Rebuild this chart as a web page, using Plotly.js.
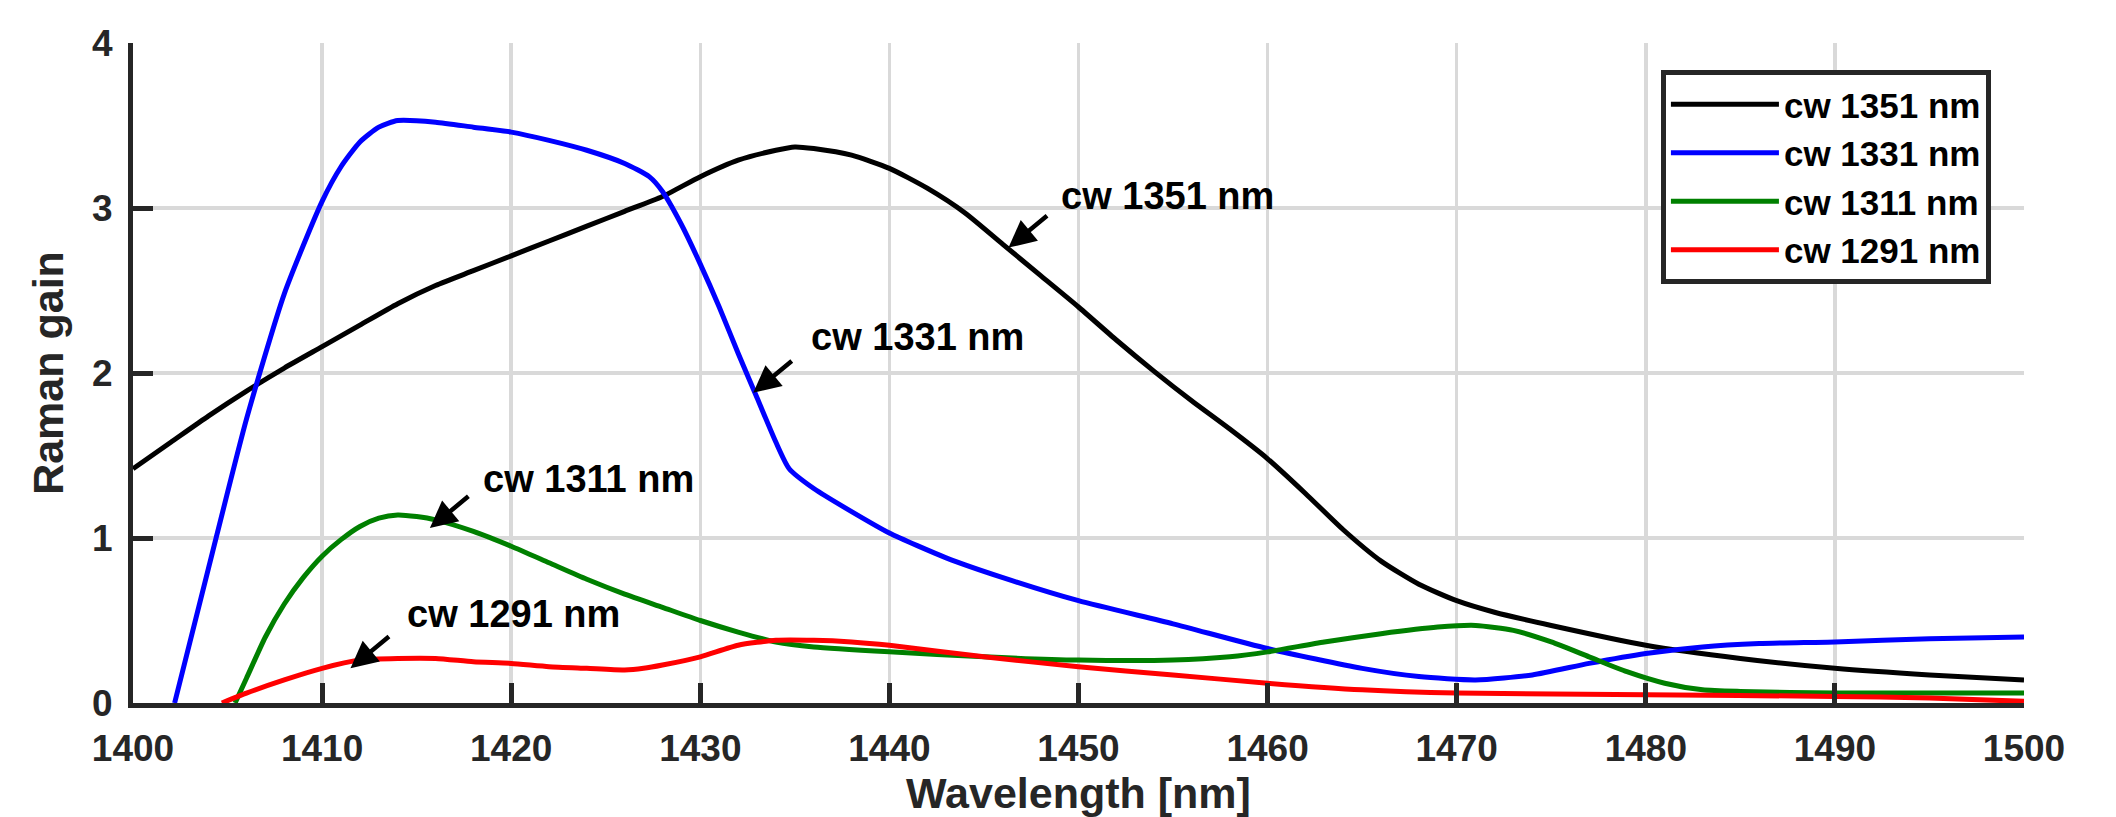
<!DOCTYPE html>
<html>
<head>
<meta charset="utf-8">
<script src="https://cdn.plot.ly/plotly-3.0.1.min.js"></script>
<style>html,body{margin:0;padding:0;background:#fff;}#chart{width:2116px;height:817px;}</style>
</head>
<body>
<div id="chart"></div>
<script>
// cw 1351 nm (black)
const x1351 = [1400,1402,1404,1406,1408,1410,1412,1414,1416,1418,1420,1422,1424,1426,1428,1430,1432,1434,1435,1436,1438,1440,1442,1444,1446,1448,1450,1452,1454,1456,1458,1460,1462,1464,1466,1468,1470,1472,1475,1480,1485,1490,1495,1500];
const y1351 = [1.42,1.58,1.74,1.89,2.03,2.16,2.29,2.42,2.53,2.62,2.71,2.80,2.89,2.98,3.07,3.19,3.29,3.35,3.37,3.36,3.32,3.24,3.12,2.97,2.78,2.59,2.40,2.20,2.01,1.83,1.66,1.48,1.27,1.05,0.86,0.72,0.62,0.55,0.47,0.35,0.27,0.21,0.17,0.14];
// cw 1331 nm (blue)
const x1331 = [1402.2,1404,1406,1408,1410,1411,1412,1413,1414,1416,1418,1420,1422,1424,1426,1427.3,1428,1429,1430,1431,1432,1433,1434,1434.7,1436,1438,1440,1443,1446,1450,1455,1460,1465,1468,1471,1474,1477,1480,1483,1486,1490,1495,1500];
const y1331 = [0,0.82,1.72,2.48,3.04,3.25,3.40,3.49,3.53,3.52,3.49,3.46,3.41,3.35,3.27,3.19,3.10,2.90,2.66,2.40,2.12,1.85,1.58,1.42,1.30,1.16,1.03,0.88,0.76,0.62,0.48,0.33,0.21,0.16,0.14,0.17,0.24,0.30,0.34,0.36,0.37,0.39,0.40];
// cw 1311 nm (green)
const x1311 = [1405.4,1406,1407,1408,1409,1410,1411,1412,1413,1414,1415,1416,1418,1420,1422,1424,1426,1428,1430,1432,1434,1436,1440,1445,1450,1455,1458,1460,1463,1466,1469,1471,1473,1475,1477,1479,1481,1483,1485,1490,1500];
const y1311 = [0,0.15,0.40,0.60,0.76,0.89,0.99,1.07,1.12,1.14,1.13,1.11,1.04,0.95,0.85,0.75,0.66,0.58,0.50,0.43,0.37,0.34,0.31,0.28,0.26,0.26,0.28,0.31,0.37,0.42,0.46,0.47,0.44,0.37,0.28,0.19,0.12,0.08,0.07,0.06,0.06];
// cw 1291 nm (red)
const x1291 = [1404.7,1406,1408,1410,1412,1414,1416,1418,1420,1422,1424,1426,1427,1428,1430,1432,1434,1436,1438,1440,1445,1450,1455,1460,1465,1470,1480,1490,1495,1500];
const y1291 = [0,0.06,0.14,0.21,0.26,0.27,0.27,0.25,0.24,0.22,0.21,0.20,0.21,0.23,0.28,0.35,0.38,0.38,0.37,0.35,0.28,0.22,0.17,0.12,0.08,0.06,0.05,0.04,0.03,0.01];

const seriesNames = ['cw 1351 nm','cw 1331 nm','cw 1311 nm','cw 1291 nm'];
const seriesColors = ['#000000','#0000ff','#008000','#ff0000'];
const xTicks = [1400,1410,1420,1430,1440,1450,1460,1470,1480,1490,1500];
const yTicks = [0,1,2,3,4];

// annotation arrow heads (data coords) and label centres
const arrowHeadX = [1446.3,1432.8,1415.7,1411.5];
const arrowHeadY = [2.76,1.88,1.06,0.21];
const labelX = [1454.7,1441.5,1424.1,1420.1];
const labelY = [3.07,2.22,1.36,0.54];

const FONT = 'Liberation Sans, Arial, Helvetica, sans-serif';
const xs = [x1351,x1331,x1311,x1291];
const ys = [y1351,y1331,y1311,y1291];
const traces = xs.map((x,i)=>({
  x: x, y: ys[i], type:'scatter', mode:'lines', name: seriesNames[i],
  line:{color: seriesColors[i], width:5, shape:'spline', smoothing:0.6}
}));

const annotations = [];
for (let i=0;i<4;i++){
  annotations.push({x: arrowHeadX[i], y: arrowHeadY[i], xref:'x', yref:'y', text:'',
    showarrow:true, arrowhead:2, arrowsize:1.2, arrowwidth:4.5, arrowcolor:'#000', ax:40, ay:-33, standoff:0});
  annotations.push({x: labelX[i], y: labelY[i], xref:'x', yref:'y', text: seriesNames[i],
    showarrow:false, font:{family:FONT, size:38, color:'#000', weight:'bold'}, xanchor:'center', yanchor:'middle'});
}

const layout = {
  width:2116, height:817,
  margin:{l:133, r:92, t:43, b:114},
  paper_bgcolor:'#fff', plot_bgcolor:'#fff',
  showlegend:true,
  legend:{x:0.808, y:0.959, xanchor:'left', yanchor:'top', bgcolor:'#fff', bordercolor:'#262626', borderwidth:5,
    font:{family:FONT, size:35, color:'#000', weight:'bold'}, itemwidth:108, tracegroupgap:0},
  xaxis:{range:[1400,1500], tickvals:xTicks, ticktext:xTicks.map(String), showgrid:true, gridcolor:'#d9d9d9', gridwidth:3.5,
    showline:true, linecolor:'#262626', linewidth:5, ticks:'inside', ticklen:20, tickwidth:5, tickcolor:'#262626',
    zeroline:false, tickfont:{family:FONT, size:37, color:'#262626', weight:'bold'}, ticklabelstandoff:9,
    title:{text:'Wavelength [nm]', font:{family:FONT, size:43, color:'#262626', weight:'bold'}, standoff:16}},
  yaxis:{range:[0,4], tickvals:yTicks, ticktext:yTicks.map(String), showgrid:true, gridcolor:'#d9d9d9', gridwidth:3.5,
    showline:true, linecolor:'#262626', linewidth:5, ticks:'inside', ticklen:20, tickwidth:5, tickcolor:'#262626',
    zeroline:false, tickfont:{family:FONT, size:37, color:'#262626', weight:'bold'}, ticklabelstandoff:8,
    title:{text:'Raman gain', font:{family:FONT, size:43, color:'#262626', weight:'bold'}, standoff:16}},
  annotations: annotations
};
Plotly.newPlot('chart', traces, layout, {displayModeBar:false, staticPlot:true});
</script>
</body>
</html>
